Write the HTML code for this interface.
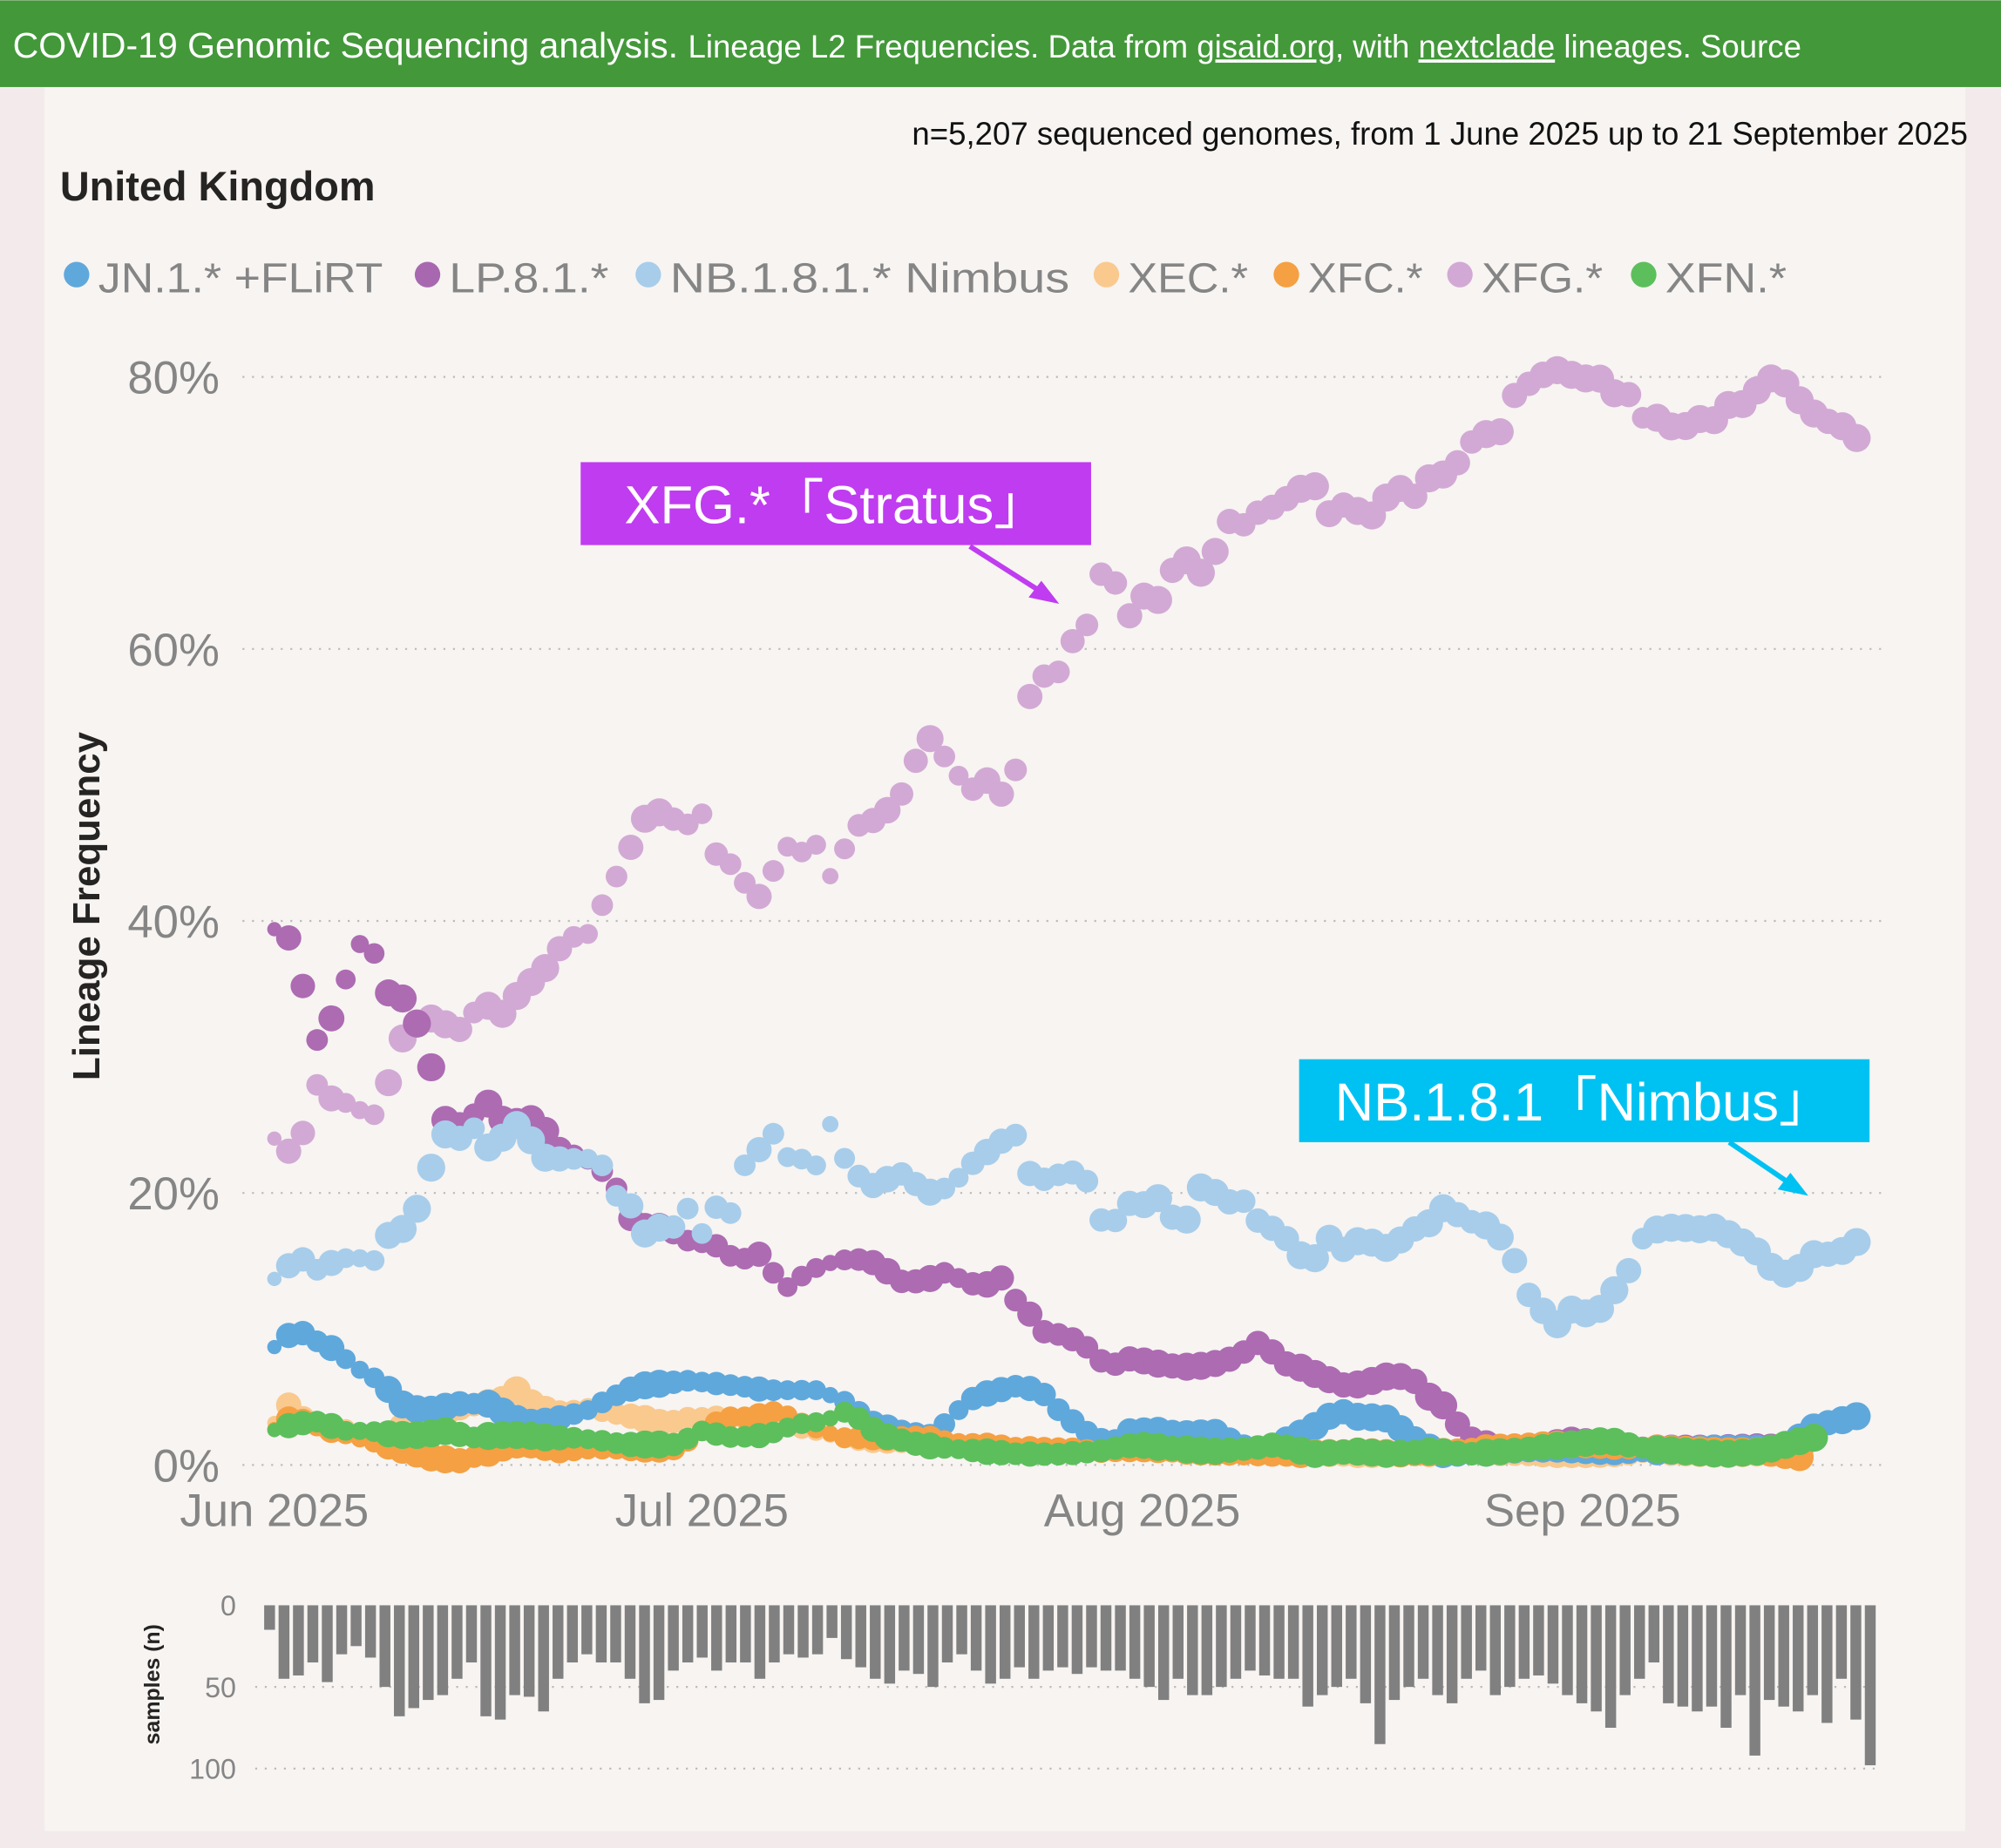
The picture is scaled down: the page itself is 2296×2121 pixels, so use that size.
<!DOCTYPE html>
<html><head><meta charset="utf-8">
<style>
html,body{margin:0;padding:0;background:#f3ebeb;}
svg{display:block;}
text{font-family:"Liberation Sans","DejaVu Sans",sans-serif;}
</style></head>
<body>
<svg id="s" width="2296" height="2121" viewBox="0 0 1568 1448" xmlns="http://www.w3.org/2000/svg">
<rect x="0" y="0" width="1568" height="1448" fill="#f3ebeb"/>
<rect x="35" y="68" width="1505" height="1367" fill="#f7f4f2"/>
<rect x="0" y="0" width="1568" height="68" fill="#43983a"/>
<text x="10" y="45" fill="#fff" font-size="28">COVID-19 Genomic Sequencing analysis. <tspan font-size="25">Lineage L2 Frequencies. Data from <tspan text-decoration="underline">gisaid.org</tspan>, with <tspan text-decoration="underline">nextclade</tspan> lineages. Source</tspan></text>
<text x="1542" y="113" text-anchor="end" font-size="25" fill="#111">n=5,207 sequenced genomes, from 1 June 2025 up to 21 September 2025</text>
<text x="47" y="157" font-size="32" font-weight="bold" fill="#252423">United Kingdom</text>
<g id="legend" font-size="33" fill="#858585"></g>
<g id="grid"></g>
<text transform="translate(78,710) rotate(-90)" text-anchor="middle" font-size="30" font-weight="bold" fill="#252423">Lineage Frequency</text>
<g id="pts"></g>
<g id="bars"></g>
<rect x="455" y="362" width="400" height="65" fill="#c03cf0"/>
<text x="655" y="410" text-anchor="middle" font-size="42" fill="#fff" font-family="Liberation Sans,Noto Sans CJK JP,sans-serif">XFG.*「Stratus」</text>
<line x1="760" y1="428" x2="818" y2="465" stroke="#c03cf0" stroke-width="4"/>
<polygon points="830,473 806,468 816,455" fill="#c03cf0"/>
<rect x="1018" y="830" width="447" height="65" fill="#00c2f2"/>
<text x="1241" y="878" text-anchor="middle" font-size="42" fill="#fff" font-family="Liberation Sans,Noto Sans CJK JP,sans-serif">NB.1.8.1「Nimbus」</text>
<line x1="1355" y1="895" x2="1405" y2="929" stroke="#00c2f2" stroke-width="4"/>
<polygon points="1417,937 1393,932 1403,919" fill="#00c2f2"/>
<text transform="translate(125,1320) rotate(-90)" text-anchor="middle" font-size="17" font-weight="bold" fill="#252423">samples (n)</text>
</svg>
<script>
const NS="http://www.w3.org/2000/svg";
function el(t,a,p){const e=document.createElementNS(NS,t);for(const k in a)e.setAttribute(k,a[k]);p.appendChild(e);return e;}
const Y=v=>1148-v*10.66;
const grid=document.getElementById('grid');
[0,20,40,60,80].forEach(v=>{
 el('line',{x1:190,x2:1475,y1:Y(v),y2:Y(v),stroke:'#bbb','stroke-width':1.5,'stroke-dasharray':'1.5 6'},grid);
 const t=el('text',{x:172,y:Y(v)+13,'text-anchor':'end','font-size':36,fill:'#858585'},grid);t.textContent=v+'%';
});
[['Jun 2025',215],['Jul 2025',550],['Aug 2025',895],['Sep 2025',1240]].forEach(([s,x])=>{
 const t=el('text',{x:x,y:1196,'text-anchor':'middle','font-size':36,fill:'#858585'},grid);t.textContent=s;});
const leg=document.getElementById('legend');
const L=[['JN.1.* +FLiRT','#5fa8dc',60,223],['LP.8.1.*','#a868b0',335,125],['NB.1.8.1.* Nimbus','#a7cdea',508,313],['XEC.*','#f9c98e',867,94],['XFC.*','#f5a042',1008,90],['XFG.*','#d2a9d4',1144,95],['XFN.*','#5cbf5c',1288,95]];
L.forEach(([n,c,x,w])=>{el('circle',{cx:x,cy:215,r:10,fill:c},leg);const t=el('text',{x:x+17,y:229,textLength:w,lengthAdjust:'spacingAndGlyphs'},leg);t.textContent=n;});
const S={
XFG:['#d2a9d4',[[215,24],[227,23],[238,24.5],[248,28],[258,27],[275,26.5],[292,25.5],[304,28],[316,31.5],[333,33],[360,32],[378,34],[397,33],[405,34.5],[427,36.5],[445,38.8],[460,38.9],[470,40.8],[487,44],[505,47.5],[517,48],[538,47],[549,48.2],[560,45],[575,44],[593,41.5],[605,43.5],[616,45.5],[630,45],[638,46],[649,43],[660,45],[672,47],[688,47.5],[705,49],[716,51.5],[728,53.5],[745,51.5],[760,49.5],[772,50.5],[783,49.2],[794,50],[804,56],[816,58],[828,58],[839,60.5],[850,61],[860,65.5],[872,65.5],[883,62],[893,64],[907,63.5],[925,67],[940,65.5],[950,66.5],[960,69.5],[973,69],[985,70],[995,70.3],[1016,71.5],[1028,72.5],[1040,69.8],[1050,70.7],[1062,70.2],[1075,69.8],[1085,71],[1095,72],[1107,71],[1118,72.5],[1138,73],[1150,75],[1162,75.8],[1175,75.8],[1185,78.5],[1198,79.5],[1215,80.5],[1228,80.5],[1238,79.5],[1250,80.5],[1262,78.5],[1272,79.5],[1285,77],[1300,77],[1315,76],[1330,77],[1340,76.5],[1355,78],[1370,78],[1382,79.8],[1395,80],[1405,78.8],[1418,77.5],[1430,76.8],[1442,76.5],[1455,75.5],[1463,74.5]]],
LP:['#ad6bb2',[[213,39.5],[226,38.8],[232,37],[238,35],[245,33],[250,30.5],[255,32.5],[262,33],[270,35.5],[282,38.3],[295,37.5],[302,34.8],[318,34.2],[330,31.8],[338,29.2],[345,25.5],[360,25],[383,26.6],[397,25],[415,25.5],[428,24.5],[440,23],[460,22.5],[480,21],[493,18.2],[505,17.5],[520,17.5],[538,16.5],[560,16.2],[578,15],[595,15.5],[607,14],[618,13],[632,14.2],[648,14.8],[668,15.2],[688,14.8],[705,13.5],[725,13.5],[738,14.2],[758,13.5],[770,13],[783,14],[795,12.2],[808,11],[818,9.8],[835,9.5],[850,8.8],[868,7.2],[885,7.8],[900,7.6],[915,7.3],[935,7.2],[955,7.5],[970,8],[985,9],[995,8.5],[1005,7.5],[1018,7.2],[1035,6.5],[1055,5.8],[1070,6],[1085,6.5],[1105,6.5],[1120,5],[1130,4.5],[1140,3.2],[1155,1.8],[1175,1.2],[1200,1.2],[1230,1.8],[1260,1.5],[1300,1.2],[1340,1.2],[1380,1.3],[1415,1.2]]],
NB:['#a7cdea',[[213,13.5],[228,14.8],[240,15.2],[250,14.2],[262,15],[275,15.3],[295,15],[305,17],[320,17.5],[330,19.5],[340,22.5],[350,24.5],[360,24],[375,25],[385,22.8],[393,24],[405,25],[415,24],[428,22.5],[440,22.5],[460,22.5],[470,22.5],[480,20],[495,19],[505,17],[518,17.5],[528,17.5],[538,19],[550,17],[560,19],[573,18.5],[585,22.5],[595,23.2],[605,24.5],[618,22.5],[628,22.5],[640,22],[650,25.2],[662,22.5],[675,21],[685,20.5],[705,21.5],[720,20.5],[730,20],[745,20.5],[760,22],[780,23.5],[795,24.5],[805,21.5],[818,21],[835,21.5],[850,21.5],[858,18.5],[870,17.3],[882,19.3],[895,19],[905,20],[915,18.5],[928,17.5],[935,19.5],[945,21],[960,19],[970,20],[985,18],[1005,17],[1018,15.5],[1028,14.8],[1040,16.8],[1052,15.8],[1065,16.5],[1078,16.3],[1090,15.8],[1105,17.3],[1118,17.5],[1128,19],[1140,18.5],[1155,17.8],[1170,17.5],[1185,15.5],[1195,12.8],[1208,11.5],[1218,10],[1228,11.5],[1240,11.2],[1250,11],[1262,12.5],[1275,14],[1285,16.5],[1298,17.3],[1315,17.5],[1330,17.3],[1348,17.5],[1360,16.5],[1372,16.2],[1385,14.8],[1395,14],[1408,14.2],[1418,15.5],[1433,15.5],[1447,15.8],[1463,17]]],
XEC:['#f9c98e',[[213,2.8],[225,4.5],[240,3.2],[260,2.8],[280,2.5],[300,2],[320,3],[340,3.5],[360,4.2],[380,4.5],[395,4.8],[405,5.5],[420,4.2],[440,3.8],[460,4.2],[480,3.8],[500,3.5],[520,3],[540,3.5],[560,3.5],[580,3.5],[600,3],[620,2.8],[640,2.5],[660,2],[680,1.8],[700,1.8],[730,1.5],[760,1.2],[800,1],[840,1],[880,1.5],[920,1.2],[960,1],[1000,1],[1050,0.8],[1100,0.8],[1150,1],[1200,0.8],[1250,0.8],[1300,1],[1350,0.8],[1400,1]]],
JN:['#5fa8dc',[[213,8.5],[225,9.5],[238,9.7],[250,9],[262,8.5],[278,7.2],[292,6.5],[305,5.5],[318,4.2],[335,4],[360,4.5],[385,4.5],[400,3.5],[420,3],[440,3.5],[460,4],[480,5],[500,5.8],[520,6],[540,6.2],[560,6],[580,5.8],[600,5.5],[620,5.5],[640,5.5],[660,4.8],[685,3],[705,2.5],[730,2],[745,3.5],[760,4.8],[775,5.3],[795,5.8],[815,5.5],[830,4],[850,2.5],[870,1.5],[885,2.5],[910,2.5],[935,2.2],[950,2.5],[970,1.5],[990,1],[1010,2],[1025,2.5],[1040,3.5],[1050,4],[1065,3.5],[1085,3.5],[1100,2.5],[1115,1.5],[1130,0.8],[1150,0.8],[1180,1],[1220,1.2],[1260,1],[1300,1],[1340,1.2],[1370,1.2],[1395,1.2],[1410,2],[1425,3],[1440,3.2],[1463,3.8]]],
XFC:['#f5a042',[[213,2.5],[228,3.5],[245,3],[262,2.5],[280,2],[300,1.5],[320,1],[340,0.5],[360,0.3],[380,0.8],[400,1.5],[420,1.5],[440,1],[470,1.2],[500,1.2],[530,1.2],[550,2.5],[570,3.5],[590,3.5],[610,4],[630,3],[660,2],[690,2],[720,2],[760,1.5],[800,1.2],[830,1.2],[860,1],[900,1.2],[940,1],[980,0.8],[1020,0.8],[1060,1],[1100,0.8],[1140,1],[1160,1.2],[1200,1.5],[1250,1.5],[1300,1.2],[1350,1],[1380,1],[1415,0.5]]],
XFN:['#5cbf5c',[[213,2.5],[230,3],[250,3.2],[270,2.5],[290,2.5],[310,2.2],[330,2.2],[350,2.5],[370,2],[390,2.2],[410,2.2],[430,2],[450,2],[470,1.8],[490,1.5],[510,1.5],[530,1.5],[550,2.5],[575,2],[600,2.2],[625,3],[645,3.2],[665,4],[690,2.2],[720,1.5],[745,1.2],[770,1],[800,0.8],[830,0.8],[860,1],[890,1.5],[920,1.2],[950,1],[980,1.2],[1000,1.5],[1030,0.8],[1060,1],[1090,0.8],[1120,1],[1150,0.8],[1180,1],[1200,1.2],[1230,1.5],[1260,1.8],[1290,1.2],[1320,1],[1350,0.8],[1380,1],[1400,1.5],[1420,2]]]
};
const N=[15,45,43,35,47,30,25,32,50,68,63,58,55,45,35,68,70,55,56,65,45,35,30,35,35,45,60,58,40,35,32,40,35,35,45,35,30,32,30,20,33,38,45,48,40,42,50,35,30,40,48,45,38,45,40,38,42,38,40,40,45,50,58,45,55,55,50,45,40,43,45,45,62,55,50,45,60,85,58,50,45,55,60,45,40,55,50,45,43,48,55,60,65,75,55,45,35,60,62,65,62,75,55,92,58,62,65,55,72,45,70,98].slice(0,112);
function interp(p,x){if(x<p[0][0]-4||x>p[p.length-1][0]+4)return null;if(x<=p[0][0])return p[0][1];for(let i=1;i<p.length;i++)if(x<=p[i][0]){const a=p[i-1],b=p[i];return a[1]+(b[1]-a[1])*(x-a[0])/(b[0]-a[0]);}return p[p.length-1][1];}
const g=document.getElementById('pts');
['XFG','LP','NB','XEC','JN','XFC','XFN'].forEach(k=>{const [c,p]=S[k];
 for(let d=0;d<112;d++){const x=215+11.17*d;const v=interp(p,x);if(v==null)continue;
  const n=N[d]||40;let r=3.5+n/7;
  el('circle',{cx:x.toFixed(1),cy:Y(v).toFixed(1),r:Math.min(r,11).toFixed(1),fill:c},g);
 }});
const b=document.getElementById('bars');
[0,50,100].forEach(v=>{const y=1258+v*1.28;
 if(v>0)el('line',{x1:200,x2:1475,y1:y,y2:y,stroke:'#bbb','stroke-width':1.5,'stroke-dasharray':'1.5 6'},b);
 const t=el('text',{x:185,y:y+8,'text-anchor':'end','font-size':22,fill:'#858585'},b);t.textContent=v;});
N.forEach((n,d)=>{const x=207+11.3*d;el('rect',{x:x.toFixed(1),y:1258,width:8.5,height:(n*1.28).toFixed(1),fill:'#808080'},b);});
</script>
</body></html>
